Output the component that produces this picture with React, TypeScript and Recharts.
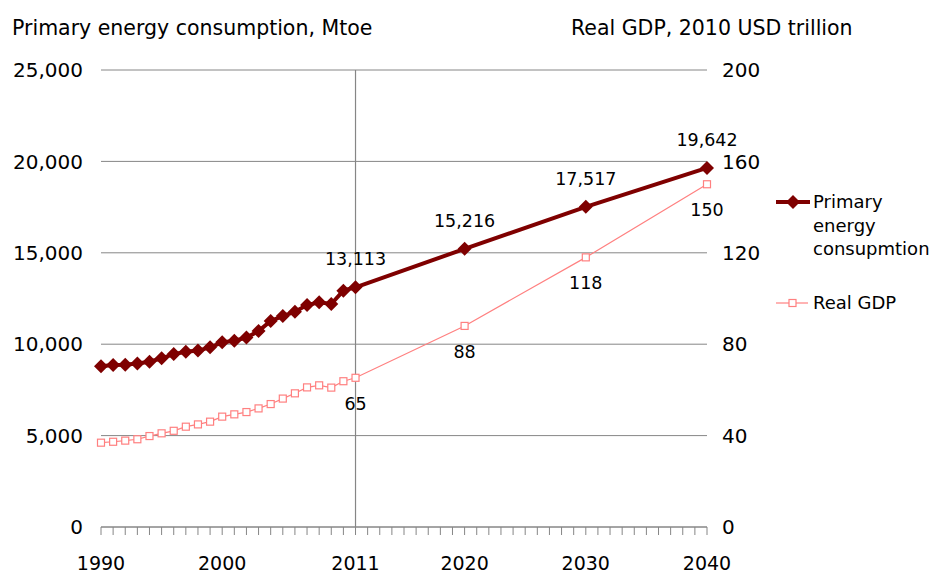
import { LineChart, Line, XAxis, YAxis, CartesianGrid, ReferenceLine, LabelList } from 'recharts';

const years = [
  1990, 1991, 1992, 1993, 1994, 1995, 1996, 1997, 1998, 1999, 2000,
  2001, 2002, 2003, 2004, 2005, 2006, 2007, 2008, 2009, 2010, 2011,
  2020, 2030, 2040,
];
const energy = [
  8800, 8860, 8870, 8950, 9040, 9230, 9460, 9590, 9650, 9830, 10100,
  10190, 10360, 10720, 11270, 11540, 11780, 12140, 12290, 12200, 12930, 13113,
  15216, 17517, 19642,
];
const gdp = [
  36.9, 37.3, 37.8, 38.4, 39.8, 41.0, 42.1, 43.9, 44.9, 46.1, 48.3,
  49.3, 50.3, 51.9, 53.8, 56.2, 58.5, 61.1, 62.0, 61.0, 63.8, 65.3,
  88, 118, 150,
];
const labelledYears = [1990, 2000, 2011, 2020, 2030, 2040];
const annotatedYears = [2011, 2020, 2030, 2040];
const leftTicks = [0, 5000, 10000, 15000, 20000, 25000];
const rightTicks = [0, 40, 80, 120, 160, 200];
// one tick mark per year along the axis
const yearTicks = Array.from({ length: 51 }, (_, i) => 1990 + i);

const data = years.map((year, i) => ({ year, energy: energy[i], gdp: gdp[i] }));

const ENERGY = '#7f0000';
const GDP = '#ff8080';
const AXIS = '#868686';
const FONT = '"DejaVu Sans", sans-serif';

const Diamond = ({ cx, cy }: any) => (
  <polygon points={`${cx},${cy - 7} ${cx + 7},${cy} ${cx},${cy + 7} ${cx - 7},${cy}`} fill={ENERGY} />
);

const Square = ({ cx, cy }: any) => (
  <rect x={cx - 3.5} y={cy - 3.5} width={7} height={7} fill="#fff" stroke={GDP} strokeWidth={1.2} />
);

const energyLabel = (props: any) => {
  const { x, y, value, index } = props;
  if (!annotatedYears.includes(years[index])) return null;
  return (
    <text x={x} y={y - 28} textAnchor="middle" dominantBaseline="central" fontSize={17.5} fill="#000">
      {Number(value).toLocaleString('en-US')}
    </text>
  );
};

const gdpLabel = (props: any) => {
  const { x, y, value, index } = props;
  if (!annotatedYears.includes(years[index])) return null;
  return (
    <text x={x} y={y + 26} textAnchor="middle" dominantBaseline="central" fontSize={17.5} fill="#000">
      {Math.round(Number(value))}
    </text>
  );
};

export default function App() {
  return (
    <div style={{ position: 'absolute', left: 0, top: 0, width: 931, height: 573, fontFamily: FONT, background: '#fff' }}>
      <div style={{ position: 'absolute', left: 12, top: 17, fontSize: 20.5, lineHeight: '22px', whiteSpace: 'nowrap' }}>
        Primary energy consumption, Mtoe
      </div>
      <div style={{ position: 'absolute', left: 571, top: 17, fontSize: 20.5, lineHeight: '22px', whiteSpace: 'nowrap' }}>
        Real GDP, 2010 USD trillion
      </div>

      <LineChart width={931} height={573} data={data} margin={{ top: 70, right: 0, bottom: 0, left: 0 }} style={{ fontFamily: FONT }}>
        <CartesianGrid yAxisId="left" vertical={false} stroke={AXIS} strokeWidth={1} />
        <XAxis
          dataKey="year"
          type="number"
          domain={[1990, 2040]}
          ticks={yearTicks}
          interval={0}
          height={46}
          tickSize={8}
          tickMargin={22}
          stroke={AXIS}
          tick={{ fill: '#000', fontSize: 19 }}
          tickFormatter={(v: number) => (labelledYears.includes(v) ? String(v) : '')}
        />
        <YAxis
          yAxisId="left"
          width={101}
          domain={[0, 25000]}
          ticks={leftTicks}
          axisLine={false}
          tickLine={false}
          tickSize={6}
          tickMargin={12}
          tick={{ fill: '#000', fontSize: 20 }}
          tickFormatter={(v: number) => v.toLocaleString('en-US')}
        />
        <YAxis
          yAxisId="right"
          orientation="right"
          width={224}
          domain={[0, 200]}
          ticks={rightTicks}
          axisLine={false}
          tickLine={false}
          tickSize={6}
          tickMargin={9}
          tick={{ fill: '#000', fontSize: 20 }}
        />
        <ReferenceLine yAxisId="left" x={2011} stroke={AXIS} strokeWidth={1.2} />
        <Line
          yAxisId="left"
          dataKey="energy"
          stroke={ENERGY}
          strokeWidth={4}
          dot={(p: any) => <Diamond key={`d-${p.index}`} {...p} />}
          activeDot={false}
          isAnimationActive={false}
        >
          <LabelList dataKey="energy" content={energyLabel} />
        </Line>
        <Line
          yAxisId="right"
          dataKey="gdp"
          stroke={GDP}
          strokeWidth={1.2}
          dot={(p: any) => <Square key={`s-${p.index}`} {...p} />}
          activeDot={false}
          isAnimationActive={false}
        >
          <LabelList dataKey="gdp" content={gdpLabel} />
        </Line>
      </LineChart>

      <div style={{ position: 'absolute', left: 776, top: 190, fontSize: 18, lineHeight: '23.5px' }}>
        <div style={{ display: 'flex', alignItems: 'flex-start' }}>
          <svg width={37} height={24} style={{ flex: 'none' }}>
            <line x1={0} y1={12} x2={34} y2={12} stroke={ENERGY} strokeWidth={4} />
            <polygon points="17,5 24,12 17,19 10,12" fill={ENERGY} />
          </svg>
          <div>
            Primary
            <br />
            energy
            <br />
            consupmtion
          </div>
        </div>
        <div style={{ display: 'flex', alignItems: 'flex-start', marginTop: 30 }}>
          <svg width={37} height={24} style={{ flex: 'none' }}>
            <line x1={0} y1={12} x2={32} y2={12} stroke={GDP} strokeWidth={1.2} />
            <rect x={13} y={8.5} width={7} height={7} fill="#fff" stroke={GDP} strokeWidth={1.2} />
          </svg>
          <div>Real GDP</div>
        </div>
      </div>
    </div>
  );
}
